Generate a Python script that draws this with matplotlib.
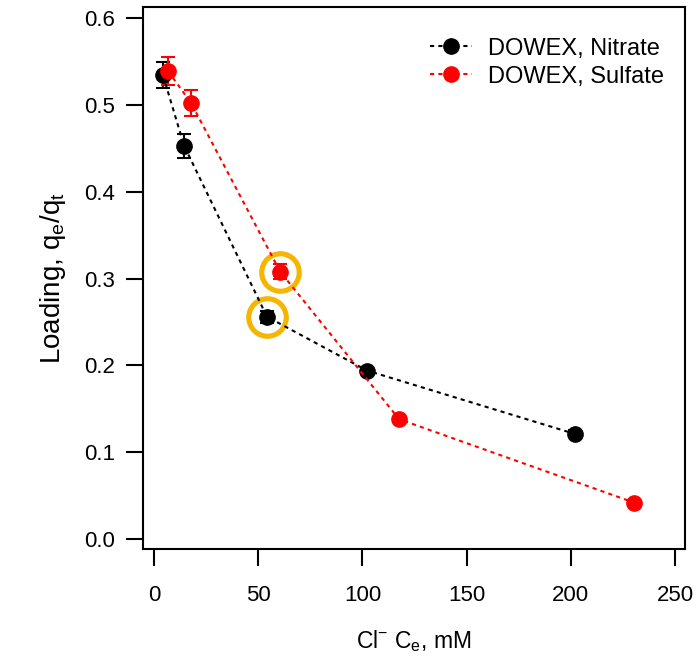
import numpy as np
import matplotlib
matplotlib.use('Agg')
import matplotlib.pyplot as plt
from matplotlib.lines import Line2D

plt.rcParams['font.family'] = ['Liberation Sans', 'DejaVu Sans']
plt.rcParams['mathtext.default'] = 'regular'

# DOWEX, Nitrate
x_nit = [4.3, 14.4, 54.2, 102.2, 202.0]
y_nit = [0.534, 0.453, 0.256, 0.194, 0.121]
e_nit = [0.015, 0.014, 0.007, 0.004, 0.004]

# DOWEX, Sulfate
x_sul = [6.7, 17.8, 60.5, 117.6, 230.3]
y_sul = [0.539, 0.502, 0.308, 0.138, 0.042]
e_sul = [0.016, 0.015, 0.009, 0.003, 0.003]

# highlighted points
x_hl = [x_nit[2], x_sul[2]]
y_hl = [y_nit[2], y_sul[2]]

fig = plt.figure(figsize=(7, 6.62), dpi=100)
ax = fig.add_axes([0.2043, 0.1707, 0.7743, 0.8187])

handles = []
for x, y, e, c, lab in [(x_nit, y_nit, e_nit, 'black', 'DOWEX, Nitrate'),
                        (x_sul, y_sul, e_sul, 'red', 'DOWEX, Sulfate')]:
    ax.errorbar(x, y, yerr=e, color=c, marker='o', ms=11, ls=(0, (2, 2)),
                lw=1.5, capsize=5, capthick=1.5, elinewidth=1.5)
    handles.append(Line2D([], [], color=c, marker='o', ms=11, ls=(0, (2, 2)),
                          lw=1.5, label=lab))

ax.plot(x_hl, y_hl, 'o', ms=27, mfc='none', mec='#F5B500', mew=3.7)

ax.set_xlim(-5.3, 254.8)
ax.set_ylim(-0.0115, 0.6127)
ax.set_xticks([0, 50, 100, 150, 200, 250])
ax.set_yticks([0.0, 0.1, 0.2, 0.3, 0.4, 0.5, 0.6])
ax.yaxis.set_major_formatter(matplotlib.ticker.FormatStrFormatter('%.1f'))
ax.tick_params(direction='out', length=12, width=1.5, labelsize=16)
ax.tick_params(axis='x', pad=14)
ax.tick_params(axis='y', pad=8)
for s in ax.spines.values():
    s.set_linewidth(1.5)

ax.set_xlabel('Cl$^{-}$ C$_e$, mM', fontsize=16.5, labelpad=16)
ax.set_ylabel('Loading, q$_e$/q$_t$', fontsize=20, labelpad=12)

leg = ax.legend(handles=handles, loc='upper right', bbox_to_anchor=(1.018, 1.0),
                frameon=False, fontsize=17, handlelength=1.75, handletextpad=0.7,
                borderaxespad=0.9, labelspacing=0.25)

fig.savefig('out.png', dpi=100)
